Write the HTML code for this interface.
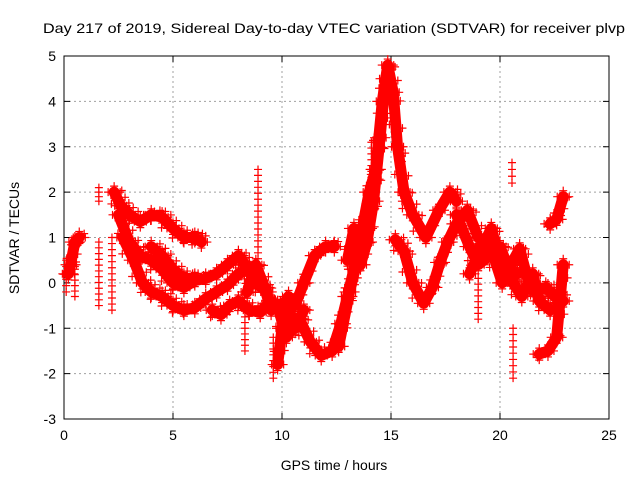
<!DOCTYPE html>
<html><head><meta charset="utf-8"><style>
html,body{margin:0;padding:0;background:#fff}
svg{display:block;font-family:"Liberation Sans",sans-serif}
</style></head><body>
<svg id="chart" width="640" height="480" viewBox="0 0 640 480">
<rect width="640" height="480" fill="#fff"/>
<text x="334" y="33" text-anchor="middle" font-size="14" textLength="582" lengthAdjust="spacingAndGlyphs">Day 217 of 2019, Sidereal Day-to-day VTEC variation (SDTVAR) for receiver plvp</text>
<g id="grid"></g>
<g id="axes"></g>
<g id="marks"></g>
<text x="334" y="470" text-anchor="middle" font-size="14">GPS time / hours</text>
<text transform="translate(19,238) rotate(-90)" text-anchor="middle" font-size="14">SDTVAR / TECUs</text>
</svg>
<script>
const xTicks=[0,5,10,15,20,25];
const yTicks=[-3,-2,-1,0,1,2,3,4,5];
// tracks of [hour, TECU]
const trackA=[[2.3,2.0],[2.6,1.7],[3.0,1.5],[3.5,1.35],[4.0,1.5],[4.5,1.45],[5.0,1.2],[5.5,1.0],[6.0,1.0],[6.3,0.9]];
const trackB=[[2.5,1.5],[3.0,0.9],[3.5,0.6],[4.0,0.5],[4.5,0.3],[5.0,0.0],[5.5,-0.1],[6.0,0.05],[6.5,0.1],[7.0,0.2],[7.5,0.4],[8.0,0.6],[8.3,0.4],[8.8,0.0],[9.3,-0.2]];
const trackC=[[2.7,1.0],[3.2,0.5],[3.6,0.0],[4.0,-0.2],[4.5,-0.3],[5.0,-0.5],[5.5,-0.6],[6.0,-0.55],[6.5,-0.35],[7.0,-0.2],[7.5,-0.05],[8.0,0.2],[8.5,0.3]];
const trackD=[[4.0,0.8],[4.5,0.6],[5.0,0.3],[5.5,0.1],[6.0,0.1]];
const trackE=[[6.8,-0.6],[7.2,-0.7],[7.6,-0.5],[8.0,-0.4],[8.5,-0.6],[9.0,-0.65],[9.5,-0.4]];
const trackF=[[9.8,-1.8],[10.0,-1.0],[10.3,-0.3],[10.6,-0.5],[11.0,0.0],[11.5,0.6],[12.0,0.8],[12.4,0.8]];
const trackG=[[9.8,-0.5],[10.2,-1.2],[10.8,-0.8],[11.3,-1.3],[11.8,-1.6],[12.3,-1.5],[12.7,-0.9],[13.0,-0.3],[13.3,0.3],[13.6,1.0],[14.0,2.0],[14.3,2.5],[14.6,4.0],[14.85,4.8],[15.1,4.2],[15.3,3.0],[15.6,2.0],[16.0,1.5],[16.6,1.0],[17.2,1.6],[17.7,2.0],[18.0,1.8]];
const trackH=[[12.6,-1.4],[13.1,-0.2],[13.5,0.6],[13.9,1.2],[14.3,2.5]];
const trackI=[[15.2,0.95],[15.6,0.7],[16.0,0.0],[16.5,-0.45],[16.9,-0.1],[17.25,0.45],[17.6,0.9],[18.0,1.3],[18.5,1.6],[19.0,1.0],[19.5,0.9],[20.1,0.0],[20.5,0.4],[20.9,0.75],[21.4,-0.15],[22.1,-0.1],[22.5,-0.3],[22.9,-0.4]];
const trackJ=[[18.0,1.5],[18.6,0.8],[19.0,0.4],[19.5,0.6],[20.0,0.8],[20.4,0.3],[20.8,0.2]];
const trackK=[[21.8,-1.57],[22.2,-1.5],[22.6,-1.2],[22.9,0.4]];
const trackL=[[22.3,1.3],[22.6,1.4],[22.9,1.9]];
const trackM=[[0.2,0.2],[0.3,0.4],[0.5,0.9],[0.7,1.0]];
const trackN=[[13.0,0.5],[13.3,1.2],[13.6,0.4],[13.9,0.9],[14.2,1.8],[14.5,3.2],[14.75,4.5]];
const trackO=[[18.6,0.2],[19.2,0.8],[19.6,1.2],[20.0,0.5],[20.6,0.0],[21.0,-0.3],[21.5,0.2],[21.8,-0.4],[22.3,-0.6]];
const trackP=[[8.4,-0.2],[8.8,0.4],[9.2,-0.1],[9.5,-0.6],[10.2,-0.4],[10.6,-1.0],[11.0,-0.6]];
const spikes=[[0.1,-0.2,0.5],[0.5,-0.3,0.3],[1.6,-0.5,0.9],[1.6,1.8,2.1],[2.2,-0.6,1.0],[8.3,-1.5,-0.5],[8.9,0.4,2.5],[9.6,-2.1,-1.2],[14.1,2.2,3.1],[20.55,2.2,2.65],[20.6,-2.1,-1.0],[19.0,-0.8,0.1],[15.5,1.8,2.8]];
const tracks=[trackA,trackB,trackC,trackD,trackE,trackF,trackG,trackH,trackI,trackJ,trackK,trackL,trackM,trackN,trackO,trackP];
const X0=64,X1=609,Y0=419,Y1=56;
const xs=h=>X0+(h-0)/(25-0)*(X1-X0);
const ys=v=>Y0-(v+3)/8*(Y0-Y1);
const NS="http://www.w3.org/2000/svg";
function mk(t,a,p){const e=document.createElementNS(NS,t);for(const k in a)e.setAttribute(k,a[k]);p.appendChild(e);return e;}
const grid=document.getElementById('grid'),axes=document.getElementById('axes'),marks=document.getElementById('marks');
xTicks.forEach(t=>{const x=xs(t);
 if(t>0&&t<25){const l=mk('line',{x1:x,y1:Y1,x2:x,y2:Y0,stroke:'#a0a0a0','stroke-dasharray':'2,3'},grid);
 
 }
 mk('line',{x1:x,y1:Y0,x2:x,y2:Y0-6,stroke:'#000'},axes);mk('line',{x1:x,y1:Y1,x2:x,y2:Y1+6,stroke:'#000'},axes);
 const tx=mk('text',{x:x,y:Y0+21,'text-anchor':'middle','font-size':'14'},axes);tx.textContent=t;
 
 });
yTicks.forEach(t=>{const y=ys(t);
 if(t>-3&&t<5){const l=mk('line',{x1:X0,y1:y,x2:X1,y2:y,stroke:'#a0a0a0','stroke-dasharray':'2,3'},grid);
 
 }
 mk('line',{x1:X0,y1:y,x2:X0+6,y2:y,stroke:'#000'},axes);mk('line',{x1:X1,y1:y,x2:X1-6,y2:y,stroke:'#000'},axes);
 const tx=mk('text',{x:X0-8,y:y+5,'text-anchor':'end','font-size':'14'},axes);tx.textContent=t;
 
 });
const fr=mk('rect',{x:X0,y:Y1,width:X1-X0,height:Y0-Y1,fill:'none',stroke:'#000'},axes);


function cross(x,y){mk('path',{d:`M${x-4},${y}h8M${x},${y-4}v8`,stroke:'#f00','stroke-width':1.2},marks);}
tracks.forEach(tr=>{
 const p=mk('polyline',{points:tr.map(d=>xs(d[0])+','+ys(d[1])).join(' '),fill:'none',stroke:'#f00','stroke-width':11,'stroke-linejoin':'round','stroke-linecap':'round'},marks);
 
 
 for(let i=0;i<tr.length;i++){const x=xs(tr[i][0]),y=ys(tr[i][1]);
  cross(x+6,y);cross(x-6,y);cross(x,y+6);cross(x,y-6);
  if(i<tr.length-1){const x2=xs(tr[i+1][0]),y2=ys(tr[i+1][1]);
   for(let k=1;k<4;k++){const f=k/4;cross(x+(x2-x)*f+((k%2)?6:-6),y+(y2-y)*f+((k%2)?-5:5));}}}
});
spikes.forEach(s=>{const x=xs(s[0]);
 const g=mk('g',{},marks);
 
 
 const n=Math.max(3,Math.round((ys(s[1])-ys(s[2]))/6));
 for(let k=0;k<=n;k++){const v=s[1]+(s[2]-s[1])*k/n;const y=ys(v);
  mk('path',{d:`M${x-4},${y}h8M${x},${y-4}v8`,stroke:'#f00','stroke-width':1.2},g);}});
</script>
</body></html>
